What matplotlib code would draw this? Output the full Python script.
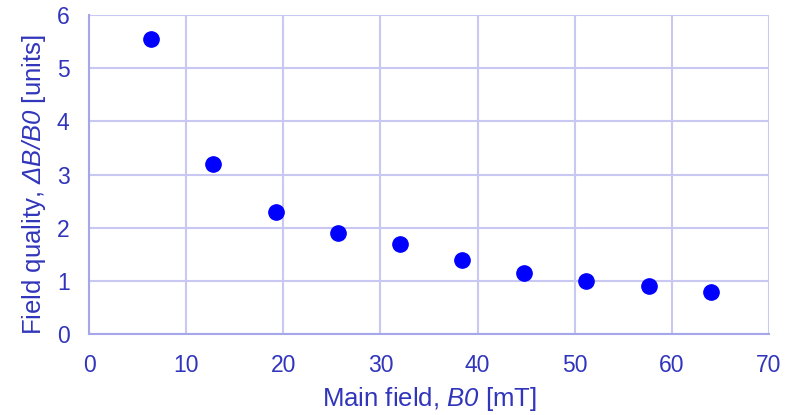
import matplotlib
matplotlib.use("Agg")
import matplotlib.pyplot as plt

plt.rcParams['font.family'] = ['Liberation Sans', 'DejaVu Sans']
plt.rcParams['mathtext.fontset'] = 'custom'
plt.rcParams['mathtext.rm'] = 'Liberation Sans:italic'
plt.rcParams['mathtext.it'] = 'Liberation Sans:italic'

main_field = [6.4, 12.8, 19.2, 25.6, 32.0, 38.4, 44.8, 51.2, 57.6, 64.0]
field_quality = [5.55, 3.2, 2.3, 1.9, 1.7, 1.4, 1.15, 1.0, 0.9, 0.8]
x_ticks = [0, 10, 20, 30, 40, 50, 60, 70]
y_ticks = [0, 1, 2, 3, 4, 5, 6]

text_col = '#3035bb'
grid_col = '#c8c8f2'
spine_col = '#a6a6ea'

fig = plt.figure(figsize=(7.92, 4.15), dpi=100)
ax = fig.add_axes([0.1124, 0.195, 0.8586, 0.769])

ax.plot(main_field, field_quality, 'o', color='#0000ff', ms=11, zorder=3, clip_on=False)

ax.set_xlim(0, 70)
ax.set_ylim(0, 6)
ax.set_xticks(x_ticks)
ax.set_yticks(y_ticks)
ax.grid(True, color=grid_col, linewidth=1.5)
ax.set_axisbelow(True)

for s in ['top', 'right']:
    ax.spines[s].set_visible(False)
for s in ['left', 'bottom']:
    ax.spines[s].set_color(spine_col)
    ax.spines[s].set_linewidth(1.5)

ax.tick_params(length=0, labelsize=16.5, colors=text_col)
ax.tick_params(axis='x', pad=14)
ax.tick_params(axis='y', pad=14)
ax.set_xlabel(r"Main field, $B0$ [mT]", fontsize=18.5, color=text_col, labelpad=6)
ax.set_ylabel(r"Field quality, $ΔB/B0$ [units]", fontsize=18.5, color=text_col)
ax.yaxis.set_label_coords(-0.06, 0.47)

fig.savefig("out.png", dpi=100)
